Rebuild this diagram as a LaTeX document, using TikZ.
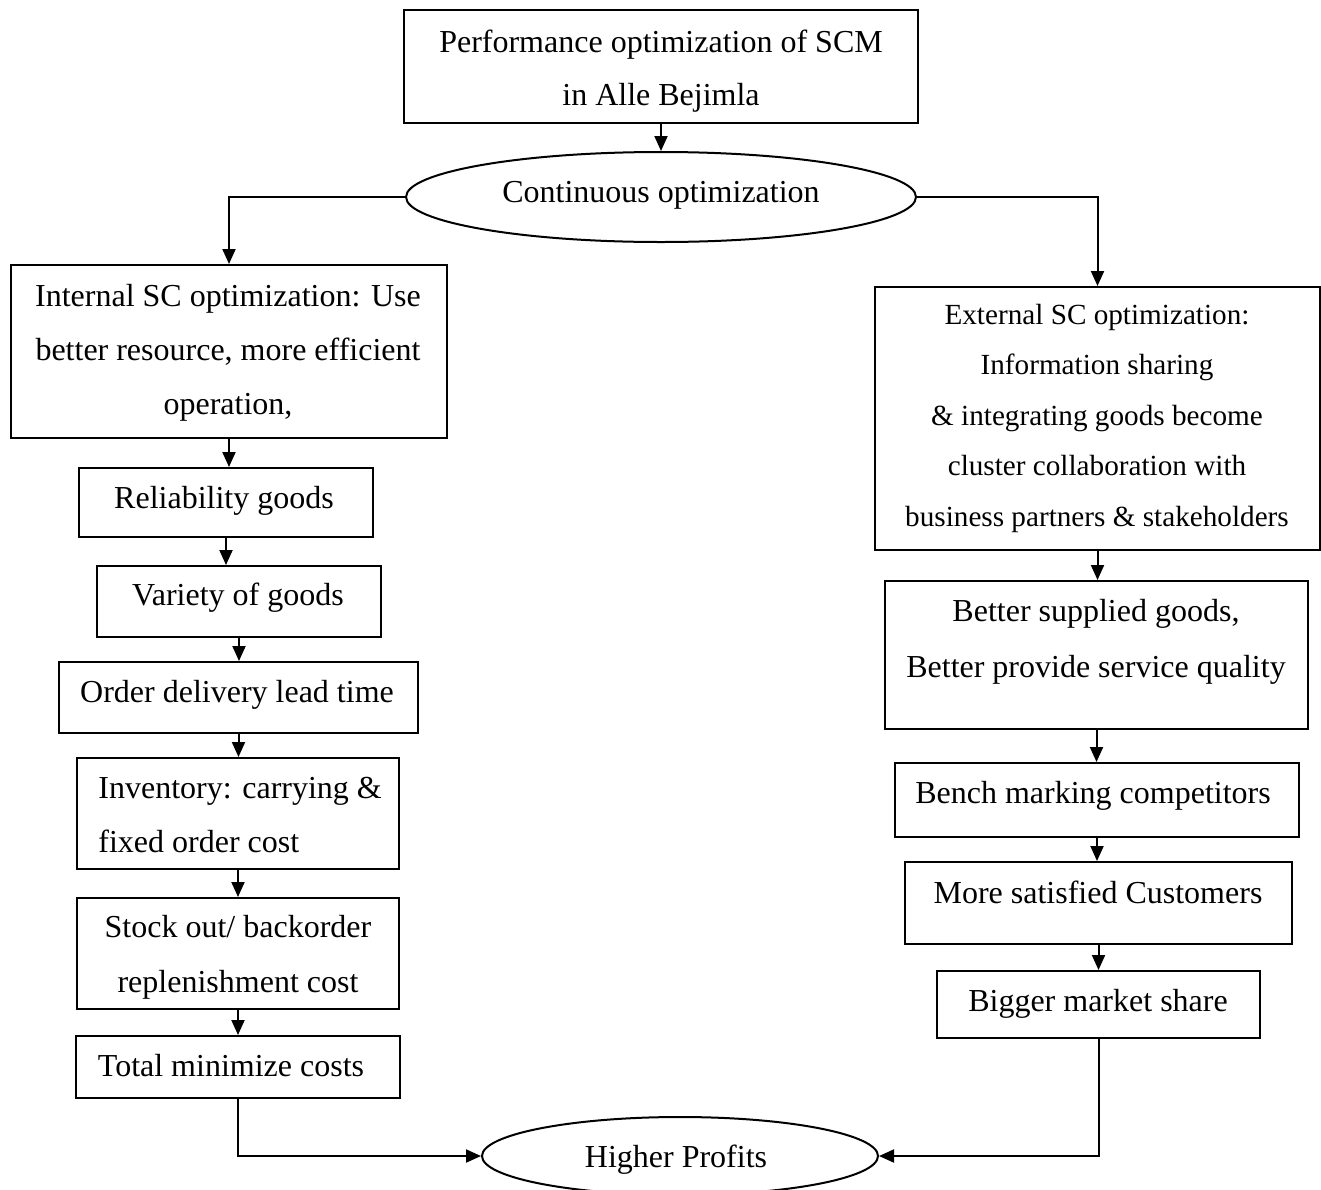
\documentclass[tikz,border=0pt]{standalone}
\usepackage{fontspec}
\setmainfont{Liberation Serif}
\usetikzlibrary{arrows.meta,shapes.geometric}

% stacked lines whose baseline is that of the first line
\newcommand\centredlines[2]{\vtop{\baselineskip=#1\halign{\hfil##\hfil\cr#2\crcr}}}
\newcommand\leftlines[2]{\vtop{\baselineskip=#1\halign{##\hfil\cr#2\crcr}}}

\begin{document}
\begin{tikzpicture}[x=0.5pt,y=-0.5pt,
  box/.style={draw,line width=1pt,rectangle,inner sep=0pt},
  oval/.style={draw,line width=1pt,ellipse,inner sep=0pt},
  txt/.style={inner sep=0pt,anchor=base,font=\fontsize{16}{20}\selectfont},
  flow/.style={line width=1pt,-{Triangle[length=7.5pt,width=6.5pt]}},
  plain/.style={line width=1pt}]
\useasboundingbox (0,0) rectangle (1321,1189);

% frames
\node[box,minimum width=257pt,minimum height=56.5pt] (top) at (661,66.5) {};
\node[oval,minimum width=255pt,minimum height=45pt] (cont) at (661,197) {};
\node[box,minimum width=218pt,minimum height=86.5pt] (int) at (229,351.5) {};
\node[box,minimum width=222.5pt,minimum height=131.5pt] (ext) at (1097.5,418.5) {};
\node[box,minimum width=147pt,minimum height=34.5pt] (rel) at (226,502.5) {};
\node[box,minimum width=142pt,minimum height=35.5pt] (var) at (239,601.5) {};
\node[box,minimum width=179.5pt,minimum height=35.5pt] (ord) at (238.5,697.5) {};
\node[box,minimum width=161pt,minimum height=55.5pt] (inv) at (238,813.5) {};
\node[box,minimum width=161pt,minimum height=55.5pt] (stk) at (238,953.5) {};
\node[box,minimum width=162pt,minimum height=31pt] (tot) at (238,1067) {};
\node[box,minimum width=211.5pt,minimum height=74pt] (bet) at (1096.5,655) {};
\node[box,minimum width=202pt,minimum height=37pt] (ben) at (1097,800) {};
\node[box,minimum width=193.5pt,minimum height=41pt] (mor) at (1098.5,903) {};
\node[box,minimum width=161.5pt,minimum height=33.5pt] (big) at (1098.5,1004.5) {};
\node[oval,minimum width=198pt,minimum height=39pt] (hp) at (680,1156) {};

% texts
\node[txt] (topt) at (661,52) {\centredlines{26.5pt}{Performance optimization of SCM\cr in Alle Bejimla}};
\node[txt] (contt) at (661,202) {Continuous optimization};
\node[txt] (intt) at (228,306) {\centredlines{27pt}{Internal SC optimization: Use\cr better resource, more efficient\cr operation,}};
\node[txt,font=\fontsize{14.6}{18}\selectfont] (extt) at (1097,324) {\centredlines{25.3pt}{External SC optimization:\cr Information sharing\cr \& integrating goods become\cr cluster collaboration with\cr business partners \& stakeholders}};
\node[txt] (relt) at (224,508) {Reliability goods};
\node[txt] (vart) at (238,605) {Variety of goods};
\node[txt] (ordt) at (237,702) {Order delivery lead time};
\node[txt,anchor=base west] (invt) at (98,798) {\leftlines{27pt}{Inventory: carrying \&\cr fixed order cost}};
\node[txt] (stkt) at (238,937) {\centredlines{27.5pt}{Stock out/ backorder\cr replenishment cost}};
\node[txt] (tott) at (231,1076) {Total minimize costs};
\node[txt] (bett) at (1096,621) {\centredlines{28pt}{Better supplied goods,\cr Better provide service quality}};
\node[txt] (bent) at (1093,803) {Bench marking competitors};
\node[txt] (mort) at (1098,903) {More satisfied Customers};
\node[txt] (bigt) at (1098,1011) {Bigger market share};
\node[txt] (hpt) at (676,1167) {Higher Profits};

% connectors
\draw[flow] (top.south) -- (cont.north);
\draw[flow] (cont.west) -| (int.north);
\draw[flow] (cont.east) -| (ext.north);
\draw[flow] (int.south) -- (int.south |- rel.north);
\draw[flow] (rel.south) -- (rel.south |- var.north);
\draw[flow] (var.south) -- (var.south |- ord.north);
\draw[flow] (ord.south) -- (ord.south |- inv.north);
\draw[flow] (inv.south) -- (inv.south |- stk.north);
\draw[flow] (stk.south) -- (stk.south |- tot.north);
\draw[flow] (tot.south) |- (hp.west);
\draw[flow] (ext.south) -- (ext.south |- bet.north);
\draw[flow] (bet.south) -- (bet.south |- ben.north);
\draw[flow] (ben.south) -- (ben.south |- mor.north);
\draw[flow] (mor.south) -- (mor.south |- big.north);
\draw[flow] (big.south) |- (hp.east);
\end{tikzpicture}
\end{document}
